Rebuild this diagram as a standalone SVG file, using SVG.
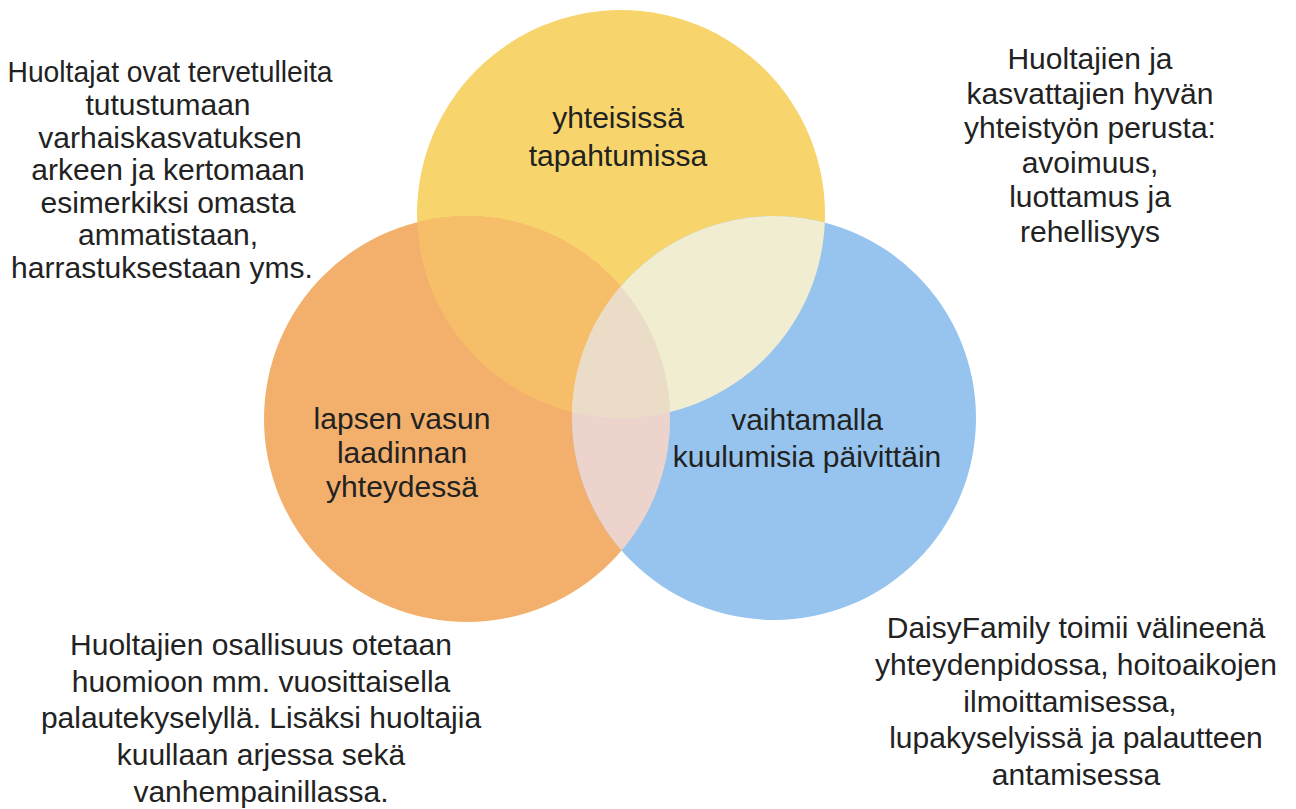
<svg xmlns="http://www.w3.org/2000/svg" width="1296" height="809" viewBox="0 0 1296 809">
<style>
text{font-family:"Liberation Sans",Arial,sans-serif;font-size:30px;fill:#222;text-anchor:middle}
</style>
<defs>
<clipPath id="clipY"><circle cx="621" cy="214" r="204"/></clipPath>
<clipPath id="clipO"><circle cx="467" cy="419" r="203"/></clipPath>
</defs>
<rect width="1296" height="809" fill="#fff"/>
<g id="circle-yellow"><circle cx="621" cy="214" r="204" fill="#F7D56C"/></g>
<g id="circle-orange"><circle cx="467" cy="419" r="203" fill="#F3B06C"/></g>
<g id="circle-blue"><circle cx="774" cy="418" r="202" fill="#97C4EE"/></g>
<g id="overlaps">
<circle cx="467" cy="419" r="203" fill="#F6BE68" clip-path="url(#clipY)"/>
<circle cx="774" cy="418" r="202" fill="#F1EDD0" clip-path="url(#clipY)"/>
<circle cx="774" cy="418" r="202" fill="#ECD3CB" clip-path="url(#clipO)"/>
<g clip-path="url(#clipY)"><circle cx="774" cy="418" r="202" fill="#EBDCC8" clip-path="url(#clipO)"/></g>
</g>
<g id="labels-circles">
<text x="618" y="128">yhteisissä</text>
<text x="618" y="166">tapahtumissa</text>
<text x="402" y="429">lapsen vasun</text>
<text x="402" y="463">laadinnan</text>
<text x="402" y="497">yhteydessä</text>
<text x="807" y="430">vaihtamalla</text>
<text x="807" y="467">kuulumisia päivittäin</text>
</g>
<g id="note-top-left">
<text x="170" y="82" textLength="325" lengthAdjust="spacingAndGlyphs">Huoltajat ovat tervetulleita</text>
<text x="168" y="115">tutustumaan</text>
<text x="170" y="148">varhaiskasvatuksen</text>
<text x="168" y="180">arkeen ja kertomaan</text>
<text x="168" y="213">esimerkiksi omasta</text>
<text x="168" y="245">ammatistaan,</text>
<text x="162" y="278">harrastuksestaan yms.</text>
</g>
<g id="note-top-right">
<text x="1090" y="69">Huoltajien ja</text>
<text x="1090" y="104">kasvattajien hyvän</text>
<text x="1090" y="138">yhteistyön perusta:</text>
<text x="1090" y="173">avoimuus,</text>
<text x="1090" y="207">luottamus ja</text>
<text x="1090" y="242">rehellisyys</text>
</g>
<g id="note-bottom-left">
<text x="261" y="655">Huoltajien osallisuus otetaan</text>
<text x="261" y="692">huomioon mm. vuosittaisella</text>
<text x="261" y="728">palautekyselyllä. Lisäksi huoltajia</text>
<text x="261" y="765">kuullaan arjessa sekä</text>
<text x="261" y="802">vanhempainillassa.</text>
</g>
<g id="note-bottom-right">
<text x="1076" y="638">DaisyFamily toimii välineenä</text>
<text x="1076" y="675">yhteydenpidossa, hoitoaikojen</text>
<text x="1070" y="712">ilmoittamisessa,</text>
<text x="1076" y="748">lupakyselyissä ja palautteen</text>
<text x="1076" y="785">antamisessa</text>
</g>
</svg>
